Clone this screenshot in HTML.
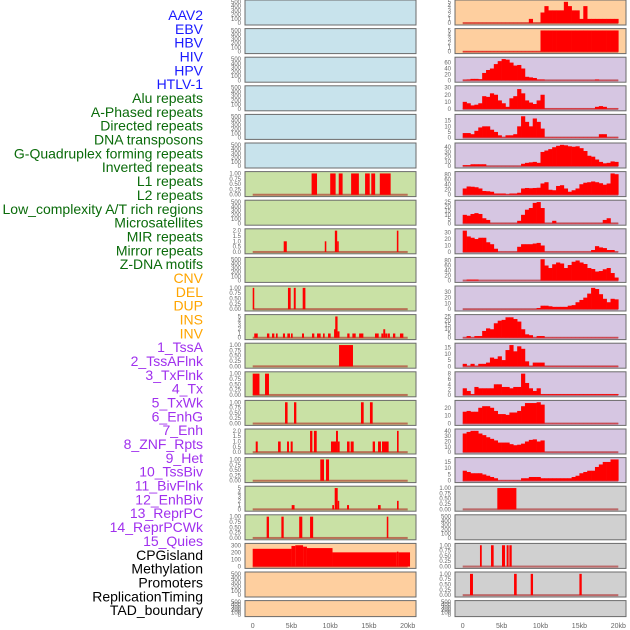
<!DOCTYPE html>
<html><head><meta charset="utf-8"><style>
html,body{margin:0;padding:0;background:#fff;}
svg{display:block;font-family:"Liberation Sans",sans-serif;}
</style></head><body>
<svg id="chart" width="630" height="630" xmlns="http://www.w3.org/2000/svg"></svg>
<script>
const NS="http://www.w3.org/2000/svg";
const svg=document.getElementById('chart');

const labels=["AAV2","EBV","HBV","HIV","HPV","HTLV-1","Alu repeats","A-Phased repeats","Directed repeats","DNA transposons","G-Quadruplex forming repeats","Inverted repeats","L1 repeats","L2 repeats","Low_complexity A/T rich regions","Microsatellites","MIR repeats","Mirror repeats","Z-DNA motifs","CNV","DEL","DUP","INS","INV","1_TssA","2_TssAFlnk","3_TxFlnk","4_Tx","5_TxWk","6_EnhG","7_Enh","8_ZNF_Rpts","9_Het","10_TssBiv","11_BivFlnk","12_EnhBiv","13_ReprPC","14_ReprPCWk","15_Quies","CPGisland","Methylation","Promoters","ReplicationTiming","TAD_boundary"];
const labelColors=[].concat(Array(6).fill("#1a1aff"),Array(13).fill("#0a6b0a"),Array(5).fill("#ffa500"),Array(15).fill("#a030ee"),Array(5).fill("#000000"));

const leftBg=[].concat(Array(6).fill("#c8e3ec"),Array(13).fill("#c9e1a5"),Array(3).fill("#fecf9f"));
const rightBg=[].concat(Array(2).fill("#fecf9f"),Array(15).fill("#d6c6e2"),Array(5).fill("#d0d0d0"));

const T500=[0,100,200,300,400,500],T1=[0,0.25,0.5,0.75,1],T2=[0,0.5,1,1.5,2],T5=[0,1,2,3,4,5];
const leftTicks=[T500,T500,T500,T500,T500,T500,T1,T500,T2,T500,T1,T5,T1,T1,T1,T2,T1,T5,T1,[0,100,200,300],T500,T500];
const rightTicks=[T5,T5,[0,20,40,60],[0,10,20,30],[0,5,10,15],[0,10,20,30,40],[0,20,40,60,80],[0,5,10,15,20,25],[0,10,20,30],[0,20,40,60,80],[0,10,20,30],[0,5,10,15,20,25],[0,5,10,15],[0,2,4,6,8],[0,10,20],[0,10,20,30,40],[0,5,10,15],T1,T500,T1,T1,T500];

// Left tracks: events [startKb,endKb,value]
const leftEvents={
 6:[[7.6,8.3,1],[10.0,10.7,1],[11.1,11.6,1],[12.7,13.7,1],[14.5,15.1,1],[15.3,15.8,1],[16.4,17.8,1]],
 8:[[4.0,4.4,1],[9.3,9.5,1],[10.6,10.9,2],[10.9,11.1,1],[18.6,18.8,2]],
 10:[[0,0.2,1],[4.55,4.9,1],[5.3,5.55,1],[6.45,6.8,1]],
 11:[[0.2,0.65,1],[1.84,2.15,1],[2.49,2.79,1],[3.0,3.22,1],[3.9,4.17,1],[4.47,4.81,1],[4.94,5.16,1],[6.36,6.62,1],[7.65,7.95,1],[8.3,8.77,1],[9.07,9.29,1],[9.72,10.06,1],[10.5,10.65,2],[10.65,10.95,5],[10.95,11.2,1.5],[12.2,12.5,1],[12.86,13.29,1],[13.73,14.28,1],[15.78,16.26,1],[16.6,16.85,1],[16.85,17.1,2],[17.1,17.4,1],[17.46,17.7,1],[18.1,18.4,1],[19.0,19.44,1]],
 12:[[11.14,12.94,1]],
 13:[[0,0.87,1],[1.59,2.1,1]],
 14:[[4.17,4.5,1],[5.33,5.63,1],[13.97,14.32,1],[15.13,15.48,1]],
 15:[[0.39,0.65,1],[3.27,3.61,1],[4.43,4.68,1],[4.9,5.16,1],[7.4,7.7,2],[7.9,8.26,2],[10.1,10.75,1],[10.75,11.0,2],[11.0,11.22,1],[12.17,12.5,1],[12.64,13.03,1],[15.48,15.78,1],[16.17,16.55,1],[16.68,17.54,1],[18.62,18.83,2]],
 16:[[8.72,9.2,1],[9.46,9.85,1]],
 17:[[5.03,5.4,1],[10.27,10.49,1],[10.58,10.97,5],[10.97,11.14,2],[12.17,12.43,1],[16.17,16.51,1],[18.62,18.83,2]],
 18:[[1.8,2.1,1],[3.7,4.0,1],[6.0,6.4,1],[7.4,7.8,1],[17.3,17.5,1]],
 19:[[0,5,250],[5,5.5,290],[5.5,6.5,300],[6.5,7,280],[7,10.3,260],[10.3,18.6,200],[18.6,18.8,210],[18.8,20.3,200]]
};
// Right tracks: 40 bins of 0.5kb
const rightBins={
 0:[0.1,0.1,0.1,0.1,0.1,0.1,0.1,0.1,0.1,0.1,0.1,0.1,0.1,0.1,0.1,0.1,0.1,1,0.1,0.1,2.5,4,3,3,3,3,5,4,3,3,1,4,1,1,1,1,1,1,1,1],
 1:[0.1,0.1,0.1,0.1,0.1,0.1,0.1,0.1,0.1,0.1,0.1,0.1,0.1,0.1,0.1,0.1,0.1,0.1,0.1,0.1,5,5,5,5,5,5,5,5,5,5,5,5,5,5,5,5,5,5,5,5],
 2:[2,3,5,5,4,25,35,40,55,65,72,70,60,50,52,40,12,10,8,3,3,0.5,0.5,0.5,0.5,0.5,0.5,0.5,0.5,0.5,0.5,0.5,0.5,0.5,3,0.5,0.5,0.5,0.5,0.5],
 3:[10,8,5,6,8,18,17,22,20,12,8,3,15,18,28,22,12,9,7,12,20,0.5,0.5,0.5,0.5,0.5,0.5,0.5,0.5,0.5,0.5,0.5,0.5,0.5,3,4,3,0.5,0.5,0.5],
 4:[4,4,3,6,9,10,10,7,5,2,0.3,2,2,3,10,19,14,10,17,14,8,0.3,0.3,0.3,0.3,0.3,0.3,0.3,0.3,0.3,0.3,0.3,0.3,0.3,0.3,3,3,0.3,0.3,0.3],
 5:[2,2,4,4,4,4,0.3,0.3,0.3,0.3,0.3,0.3,0.3,0.3,0.3,5,7,8,9,7,30,33,36,40,43,45,44,42,41,42,38,32,22,20,14,9,6,7,10,9],
 6:[25,33,32,30,25,15,14,12,5,5,5,2,5,5,8,25,27,26,27,28,45,50,20,18,35,38,25,12,18,25,42,48,50,53,50,46,40,45,85,82],
 7:[10,9,11,12,11,6,4,0.3,0.3,0.3,0.3,0.3,0.3,0.3,3,10,16,18,24,25,18,0.3,0.3,3,0.3,0.3,0.3,0.3,0.3,0.3,0.3,0.3,0.3,0.3,0.3,0.3,4,6,0.3,0.3],
 8:[33,24,22,20,22,22,15,12,5,0.3,0.3,0.3,0.3,0.3,8,12,12,12,13,14,10,0.3,0.3,0.3,0.3,0.3,0.3,0.3,0.3,0.3,0.3,0.3,0.3,3,9,7,6,3,3,0.3],
 9:[0.3,4,4,4,0.3,0.3,0.3,0.3,0.3,0.3,0.3,0.3,0.3,0.3,0.3,0.3,0.3,0.3,0.3,0.3,85,60,50,65,72,68,50,62,75,80,72,66,50,46,36,38,45,50,30,12],
 10:[0.3,0.3,0.3,0.3,0.3,0.3,0.3,0.3,0.3,0.3,0.3,0.3,0.3,0.3,0.3,0.3,0.3,0.3,0.3,2,6,6,5,4,4,4,4,6,7,12,16,20,27,37,35,26,18,12,18,17],
 11:[0.3,2,0.3,2,2,8,11,10,17,20,21,24,24,22,19,10,4,3,0.3,2,2,0.3,0.3,0.3,0.3,0.3,0.3,0.3,0.3,0.3,0.3,0.3,0.3,0.3,0.3,0.3,0.3,0.3,0.3,0.3],
 12:[2,0.3,2,0.3,2,2,3,7,6,8,5,13,17,12,16,14,4,0.3,3,3,3,0.3,0.3,0.3,0.3,0.3,0.3,0.3,0.3,0.3,0.3,0.3,0.3,0.3,0.3,0.3,0.3,0.3,0.3,0.3],
 13:[2.5,1.5,0.3,3,2.5,2.5,2.5,2.5,4,4,3,3,2.5,3,3,8,4.5,2.5,1.5,2.5,0.3,0.3,0.3,0.3,0.3,0.3,0.3,0.3,0.3,0.3,0.3,0.3,0.3,0.3,0.3,0.3,0.3,0.3,0.3,0.3],
 14:[15,16,15,15,20,22,22,20,16,12,12,11,14,14,16,22,26,26,26,27,24,0.3,0.3,0.3,0.3,0.3,0.3,0.3,0.3,0.3,0.3,0.3,0.3,0.3,0.3,0.3,0.3,0.3,0.3,0.3],
 15:[35,38,40,40,35,32,28,25,22,18,18,18,15,13,14,16,20,23,24,20,22,0.3,0.3,0.3,0.3,0.3,0.3,0.3,0.3,0.3,0.3,0.3,0.3,0.3,0.3,0.3,0.3,0.3,0.3,0.3],
 16:[8,7,6,6,6,5,4,3,2,0.3,0.3,0.3,0.3,0.3,0.3,2,2,3,3,3,2,2,2,2,2,2,2,2,3,4,6,7,8,8,11,13,15,15,17,17]
};
const rightEvents={
 17:[[4.45,6.9,1]],
 19:[[2.22,2.45,1],[3.64,3.98,1],[5.05,5.44,1],[5.65,5.9,1],[6.0,6.3,1]],
 20:[[0.94,1.32,1],[6.6,6.94,1],[8.74,9.04,1],[15.0,15.3,1]]
};
const xTicks=[0,5,10,15,20];
const xTickLabels=["0","5kb","10kb","15kb","20kb"];

const PITCH=28.6;
const cols=[{x0:245,x1:416,z:252.7,k:7.75},{x0:455,x1:626,z:462.7,k:7.78}];
function xs(c,kb){return cols[c].z+kb*cols[c].k;}
function rowTop(i){return i*PITCH;}
function rowH(i){return i===21?16:25;}
function ys(i,v,T){const h=rowH(i),t=rowTop(i);return t+h-1-(v+0.04*T)/(1.08*T)*(h-2);}
function mk(tag,attrs){const e=document.createElementNS(NS,tag);for(const a in attrs)e.setAttribute(a,attrs[a]);svg.appendChild(e);return e;}

labels.forEach((t,i)=>{
  const e=mk('text',{x:203,y:15+i*13.84+5,'text-anchor':'end','font-size':'14',fill:labelColors[i]});
  e.textContent=t;
  
  
});

function drawPanel(c,i,bg,ticks,dataMax,drawFn,hasData){
  const t=rowTop(i),h=rowH(i),p=cols[c];
  const T=Math.max(ticks[ticks.length-1],dataMax);
  const r=mk('rect',{x:p.x0,y:t,width:p.x1-p.x0,height:h,fill:bg,stroke:'#6b6b6b','stroke-width':1});
  
  
  ticks.forEach(v=>{
    const y=ys(i,v,T);
    const tx=mk('text',{x:p.x0-4,y:y+2,'text-anchor':'end','font-size':'6',fill:'#666'});
    tx.textContent=(ticks===T1)?v.toFixed(2):(ticks===T2?v.toFixed(1):String(v));
    
    
  });
  if(hasData){
    const b=mk('rect',{x:xs(c,0),y:ys(i,0,T)-1,width:xs(c,20)-xs(c,0),height:2,fill:'rgba(170,20,20,0.55)'});
    
    
  }
  drawFn(T);
}
function drawEvents(c,i,ev,T){
  ev.forEach(e=>{
    const x0=xs(c,e[0]),x1=xs(c,e[1]),y=ys(i,e[2],T),y0=ys(i,0,T);
    const r=mk('rect',{x:x0,y:y,width:Math.max(1.5,x1-x0),height:y0-y,fill:'#ff0000'});
    
    
  });
}
function drawBins(c,i,vals,T){
  vals.forEach((v,j)=>{
    const x0=xs(c,j*0.5),x1=xs(c,j*0.5+0.5),y=ys(i,v,T),y0=ys(i,0,T);
    const r=mk('rect',{x:x0,y:y,width:x1-x0+0.3,height:y0-y,fill:'#ff0000'});
    
    
  });
}
for(let i=0;i<22;i++){
  const ev=leftEvents[i];
  const mx=ev?Math.max(...ev.map(e=>e[2])):0;
  drawPanel(0,i,leftBg[i],leftTicks[i],mx,T=>{if(ev)drawEvents(0,i,ev,T);},!!ev);
  const bn=rightBins[i],re=rightEvents[i];
  const mx2=bn?Math.max(...bn):(re?Math.max(...re.map(e=>e[2])):0);
  drawPanel(1,i,rightBg[i],rightTicks[i],mx2,T=>{if(bn)drawBins(1,i,bn,T);if(re)drawEvents(1,i,re,T);},!!(bn||re));
}
[0,1].forEach(c=>{
  xTicks.forEach((v,j)=>{
    const t=mk('text',{x:xs(c,v),y:628,'text-anchor':'middle','font-size':'7',fill:'#666'});
    t.textContent=xTickLabels[j];
    
    
  });
});
</script>
</body></html>
